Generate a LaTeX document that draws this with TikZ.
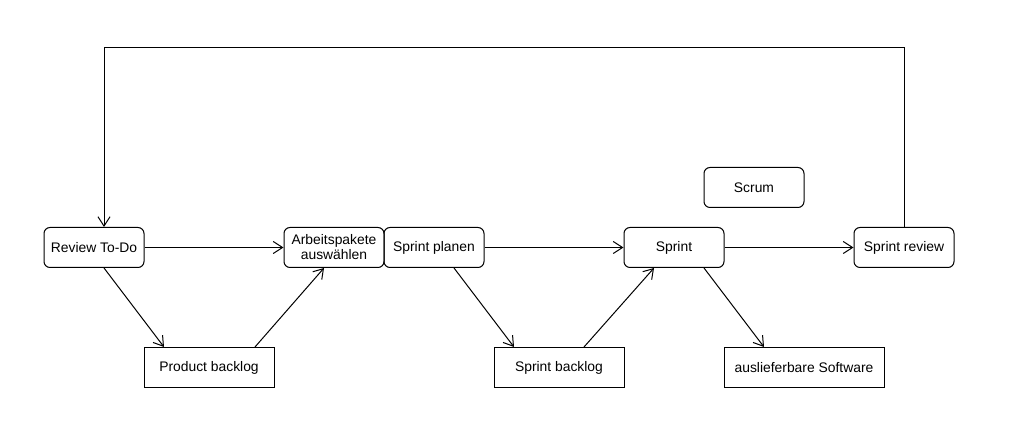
\documentclass[tikz,border=0pt]{standalone}
\usepackage{fontspec}
\setmainfont{Liberation Sans}
\usetikzlibrary{arrows.meta,calc}

\begin{document}
\begin{tikzpicture}[
    x=0.75pt, y=-0.75pt, line width=0.75pt,
    every node/.style={font=\fontsize{10.4}{11.3}\selectfont},
    state/.style={draw, rounded corners=4.5pt, align=center, minimum width=75pt, minimum height=30pt, inner sep=1pt},
    artifact/.style={draw, align=center, minimum height=30pt, inner sep=1pt},
    arrow/.style={-{Straight Barb[length=7pt,width=9pt]}}
]
\useasboundingbox (0,0) rectangle (1029,448);

\node[state] (todo) at (94,247.5) {Review To-Do};
\node[state] (select) at (334,247.5) {Arbeitspakete\\auswählen};
\node[state] (plan) at (434,247.5) {Sprint planen};
\node[state] (sprint) at (674,247.5) {Sprint};
\node[state] (review) at (904,247.5) {Sprint review};
\node[state] (scrum) at (754,187.5) {Scrum};
\node[artifact, minimum width=97.5pt] (pbl) at (209,367.5) {Product backlog};
\node[artifact, minimum width=97.5pt] (sbl) at (559,367.5) {Sprint backlog};
\node[artifact, minimum width=120pt] (soft) at (804,367.5) {auslieferbare Software};

\coordinate (loopR) at (904,48);
\coordinate (loopL) at (104,48);

\draw[arrow] (todo) -- (select);
\draw[arrow] (plan) -- (sprint);
\draw[arrow] (sprint) -- (review);
\draw[arrow] ($(todo.south)+(10,0)$) -- ($(pbl.north)+(-45,0)$);
\draw[arrow] ($(pbl.north)+(46,0)$) -- ($(select.south)+(-10,0)$);
\draw[arrow] ($(plan.south)+(20,0)$) -- ($(sbl.north)+(-45,0)$);
\draw[arrow] ($(sbl.north)+(25,0)$) -- ($(sprint.south)+(-20,0)$);
\draw[arrow] ($(sprint.south)+(30,0)$) -- ($(soft.north)+(-40,0)$);
\draw[arrow] (review.north) -- (loopR) -- (loopL) -- ($(todo.north)+(10,0)$);
\end{tikzpicture}
\end{document}
